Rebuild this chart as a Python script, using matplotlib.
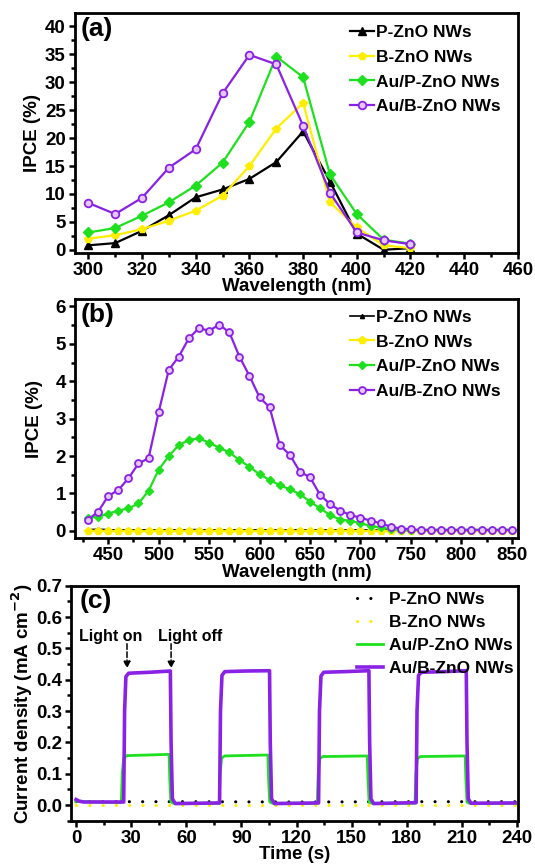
import numpy as np
import matplotlib
matplotlib.use('Agg')
import matplotlib.pyplot as plt
from matplotlib.ticker import MultipleLocator

plt.rcParams['font.family'] = ['Liberation Sans', 'DejaVu Sans']
plt.rcParams['font.weight'] = 'bold'
plt.rcParams['mathtext.default'] = 'bf'

# colours
BLACK = '#000000'
YELLOW = '#ffee00'
GREEN = '#1ee01e'
PURPLE = '#8a22e6'
labels = ['P-ZnO NWs', 'B-ZnO NWs', 'Au/P-ZnO NWs', 'Au/B-ZnO NWs']

# (a) UV region IPCE
wl_a = [300, 310, 320, 330, 340, 350, 360, 370, 380, 390, 400, 410, 420]
ipce_a_P = [0.8, 1.2, 3.4, 6.2, 9.4, 10.8, 12.7, 15.7, 21.2, 12.2, 2.9, 0.0, 0.3]
ipce_a_B = [2.0, 2.6, 3.7, 5.2, 7.0, 9.7, 15.0, 21.7, 26.3, 8.5, 4.0, 0.8, 0.3]
ipce_a_AuP = [3.1, 3.9, 6.1, 8.5, 11.5, 15.6, 22.9, 34.6, 30.9, 13.5, 6.4, 1.8, 1.1]
ipce_a_AuB = [8.4, 6.4, 9.3, 14.7, 18.0, 28.0, 34.9, 33.2, 22.2, 10.2, 3.1, 1.7, 1.0]

# (b) visible region IPCE, 430-850 nm
wl_b = list(range(430, 851, 10))
ipce_b_P = [0.03, 0.04, 0.03, 0.02, 0.03, 0.02, 0.03, 0.02, 0.03, 0.02, 0.03,
            0.03, 0.02, 0.03, 0.02, 0.03, 0.02, 0.03, 0.02, 0.03, 0.02, 0.03,
            0.02, 0.03, 0.02, 0.03, 0.02, 0.03, 0.02, 0.02, 0.03, 0.02, 0.02,
            0.03, 0.02, 0.02, 0.03, 0.02, 0.02, 0.03, 0.02, 0.02, 0.02]
ipce_b_B = [-0.01, 0.0, -0.01, -0.01, 0.0, -0.01, -0.01, 0.0, -0.01, -0.01, 0.0,
            -0.01, -0.01, 0.0, -0.01, -0.01, 0.0, -0.01, -0.01, 0.0, -0.01, -0.01,
            0.0, -0.01, -0.01, 0.0, -0.01, -0.01, 0.0, -0.01, -0.01, 0.0, -0.01,
            -0.01, 0.0, -0.01, -0.01, 0.0, -0.01, -0.01, 0.0, -0.01, -0.01]
ipce_b_AuP = [0.35, 0.38, 0.46, 0.54, 0.60, 0.73, 1.07, 1.63, 2.00, 2.29, 2.43,
              2.47, 2.36, 2.22, 2.10, 1.89, 1.71, 1.51, 1.36, 1.22, 1.11, 0.98,
              0.78, 0.60, 0.42, 0.30, 0.27, 0.20, 0.13, 0.09, 0.04, 0.02, 0.01,
              0.03, 0.03, 0.03, 0.03, 0.03, 0.03, 0.03, 0.03, 0.03, 0.03]
ipce_b_AuB = [0.30, 0.51, 0.93, 1.09, 1.40, 1.80, 1.94, 3.17, 4.30, 4.66, 5.15,
              5.42, 5.35, 5.51, 5.31, 4.66, 4.14, 3.57, 3.30, 2.29, 2.03, 1.58,
              1.43, 0.96, 0.71, 0.54, 0.42, 0.35, 0.27, 0.20, 0.11, 0.06, 0.04,
              0.02, 0.02, 0.02, 0.02, 0.02, 0.02, 0.02, 0.02, 0.02, 0.02]

# (c) transient photocurrent (corner points)
t_P = [0, 60, 120, 180, 239]
j_P = [0.011, 0.011, 0.010, 0.011, 0.011]
t_B = [0, 60, 120, 180, 239]
j_B = [0.000, 0.000, 0.000, 0.000, 0.000]
t_AuP = [0, 24.6, 25.1, 25.9, 27.5, 50.6, 51.0, 51.6, 53,
         77.9, 78.4, 79.2, 80.8, 104.4, 104.8, 105.4, 107,
         131.3, 131.8, 132.6, 134.2, 158.5, 158.9, 159.5, 161,
         184.5, 185.0, 185.8, 187.4, 211.8, 212.2, 212.8, 214, 239]
j_AuP = [0.012, 0.008, 0.10, 0.150, 0.158, 0.162, 0.080, 0.010, 0.006,
         0.006, 0.10, 0.150, 0.157, 0.160, 0.080, 0.010, 0.006,
         0.006, 0.10, 0.148, 0.155, 0.157, 0.080, 0.010, 0.006,
         0.006, 0.10, 0.148, 0.155, 0.157, 0.080, 0.010, 0.006, 0.006]
t_AuB = [0, 1.5, 4, 25.9, 26.4, 27.1, 28.6, 40, 51.3, 51.7, 52.4, 54,
         78.1, 78.6, 79.4, 80.9, 92, 105.3, 105.7, 106.4, 108,
         132.0, 132.5, 133.3, 134.8, 146, 159.4, 159.8, 160.5, 162,
         185.1, 185.6, 186.4, 187.9, 200, 212.4, 212.8, 213.5, 215, 239]
j_AuB = [0.018, 0.013, 0.010, 0.010, 0.30, 0.410, 0.421, 0.424, 0.428, 0.20, 0.02, 0.005,
         0.007, 0.30, 0.414, 0.426, 0.428, 0.429, 0.20, 0.02, 0.005,
         0.007, 0.30, 0.412, 0.424, 0.426, 0.429, 0.20, 0.02, 0.005,
         0.008, 0.30, 0.414, 0.424, 0.426, 0.429, 0.20, 0.02, 0.006, 0.007]


def style_axes(ax, xmaj, xmin, ymaj, ymin):
    for s in ax.spines.values():
        s.set_linewidth(2.0)
    ax.xaxis.set_major_locator(MultipleLocator(xmaj))
    ax.xaxis.set_minor_locator(MultipleLocator(xmin))
    ax.yaxis.set_major_locator(MultipleLocator(ymaj))
    ax.yaxis.set_minor_locator(MultipleLocator(ymin))
    ax.tick_params(which='both', direction='out', top=False, right=False, width=1.8)
    ax.tick_params(which='major', length=4.5, labelsize=13.5, pad=2)
    ax.tick_params(which='minor', length=3)


LEG = dict(loc='upper left', frameon=False, borderpad=0, borderaxespad=0,
           prop={'weight': 'bold', 'size': 12.5})

fig = plt.figure(figsize=(5.35, 8.64), dpi=100)

# ---- (a)
ax1 = fig.add_axes([0.140, 0.707, 0.828, 0.278])
ax1.plot(wl_a, ipce_a_P, '-^', color=BLACK, lw=1.6, ms=5.5, label=labels[0])
ax1.plot(wl_a, ipce_a_B, '-p', color=YELLOW, lw=1.6, ms=5.5, label=labels[1])
ax1.plot(wl_a, ipce_a_AuP, '-D', color=GREEN, lw=1.6, ms=5, label=labels[2])
ax1.plot(wl_a, ipce_a_AuB, '-o', color=PURPLE, lw=1.6, ms=5.5, mfc='#e6c8ff', mew=1.3, label=labels[3])
ax1.set_xlim(295, 460)
ax1.set_ylim(-0.6, 42.4)
style_axes(ax1, 20, 10, 5, 2.5)
ax1.set_xlabel('Wavelength (nm)', fontsize=13.5, fontweight='bold', labelpad=-0.5)
ax1.set_ylabel('IPCE (%)', fontsize=13.5, fontweight='bold', labelpad=3)
ax1.text(0.012, 0.985, '(a)', transform=ax1.transAxes, fontsize=19, fontweight='bold', va='top')
ax1.legend(bbox_to_anchor=(0.62, 0.95), handlelength=1.4, handletextpad=0.15,
           labelspacing=0.55, **LEG)

# ---- (b)
ax2 = fig.add_axes([0.140, 0.377, 0.828, 0.277])
ax2.plot(wl_b, ipce_b_P, '-^', color=BLACK, lw=1.2, ms=3, label=labels[0])
ax2.plot(wl_b, ipce_b_B, '-p', color=YELLOW, lw=1.6, ms=5.5, label=labels[1])
ax2.plot(wl_b, ipce_b_AuP, '-D', color=GREEN, lw=1.6, ms=4.5, label=labels[2])
ax2.plot(wl_b, ipce_b_AuB, '-o', color=PURPLE, lw=1.6, ms=5, mfc='#e6c8ff', mew=1.3, label=labels[3])
ax2.set_xlim(417, 856)
ax2.set_ylim(-0.2, 6.2)
style_axes(ax2, 50, 25, 1, 0.5)
ax2.set_xlabel('Wavelength (nm)', fontsize=13.5, fontweight='bold', labelpad=-0.5)
ax2.set_ylabel('IPCE (%)', fontsize=13.5, fontweight='bold', labelpad=9)
ax2.text(0.012, 0.985, '(b)', transform=ax2.transAxes, fontsize=19, fontweight='bold', va='top')
ax2.legend(bbox_to_anchor=(0.62, 0.955), handlelength=1.4, handletextpad=0.15,
           labelspacing=0.55, **LEG)

# ---- (c)
ax3 = fig.add_axes([0.133, 0.050, 0.835, 0.272])
ax3.plot(t_P, j_P, color=BLACK, lw=2.2, dashes=(0.05, 4.3), dash_capstyle='round', label=labels[0])
ax3.plot(t_B, j_B, color=YELLOW, lw=2.2, dashes=(0.05, 4.3), dash_capstyle='round', label=labels[1])
ax3.plot(t_AuP, j_AuP, color=GREEN, lw=2.0, label=labels[2])
ax3.plot(t_AuB, j_AuB, color=PURPLE, lw=2.6, label=labels[3])
ax3.set_xlim(-2.7, 240.5)
ax3.set_ylim(-0.05, 0.7)
style_axes(ax3, 30, 15, 0.1, 0.05)
ax3.yaxis.set_major_formatter(matplotlib.ticker.FormatStrFormatter('%.1f'))
ax3.set_xlabel('Time (s)', fontsize=13.5, fontweight='bold', labelpad=-0.5)
ax3.set_ylabel('Current density (mA cm$^{-2}$)', fontsize=13.5, fontweight='bold', labelpad=1)
ax3.text(0.02, 0.985, '(c)', transform=ax3.transAxes, fontsize=19, fontweight='bold', va='top')
ax3.legend(bbox_to_anchor=(0.64, 0.975), handlelength=1.5, handletextpad=0.35,
           labelspacing=0.45, **LEG)
for xa, xt, txt in [(27.7, 19.0, 'Light on'), (51.7, 62.0, 'Light off')]:
    ax3.annotate('', xy=(xa, 0.436), xytext=(xa, 0.515),
                 arrowprops=dict(arrowstyle='-|>', color='black', lw=1.1, ls='--',
                                 mutation_scale=10, shrinkA=0, shrinkB=0))
    ax3.text(xt, 0.538, txt, fontsize=11.5, fontweight='bold', ha='center', va='center')

fig.savefig('out.png', dpi=100)
